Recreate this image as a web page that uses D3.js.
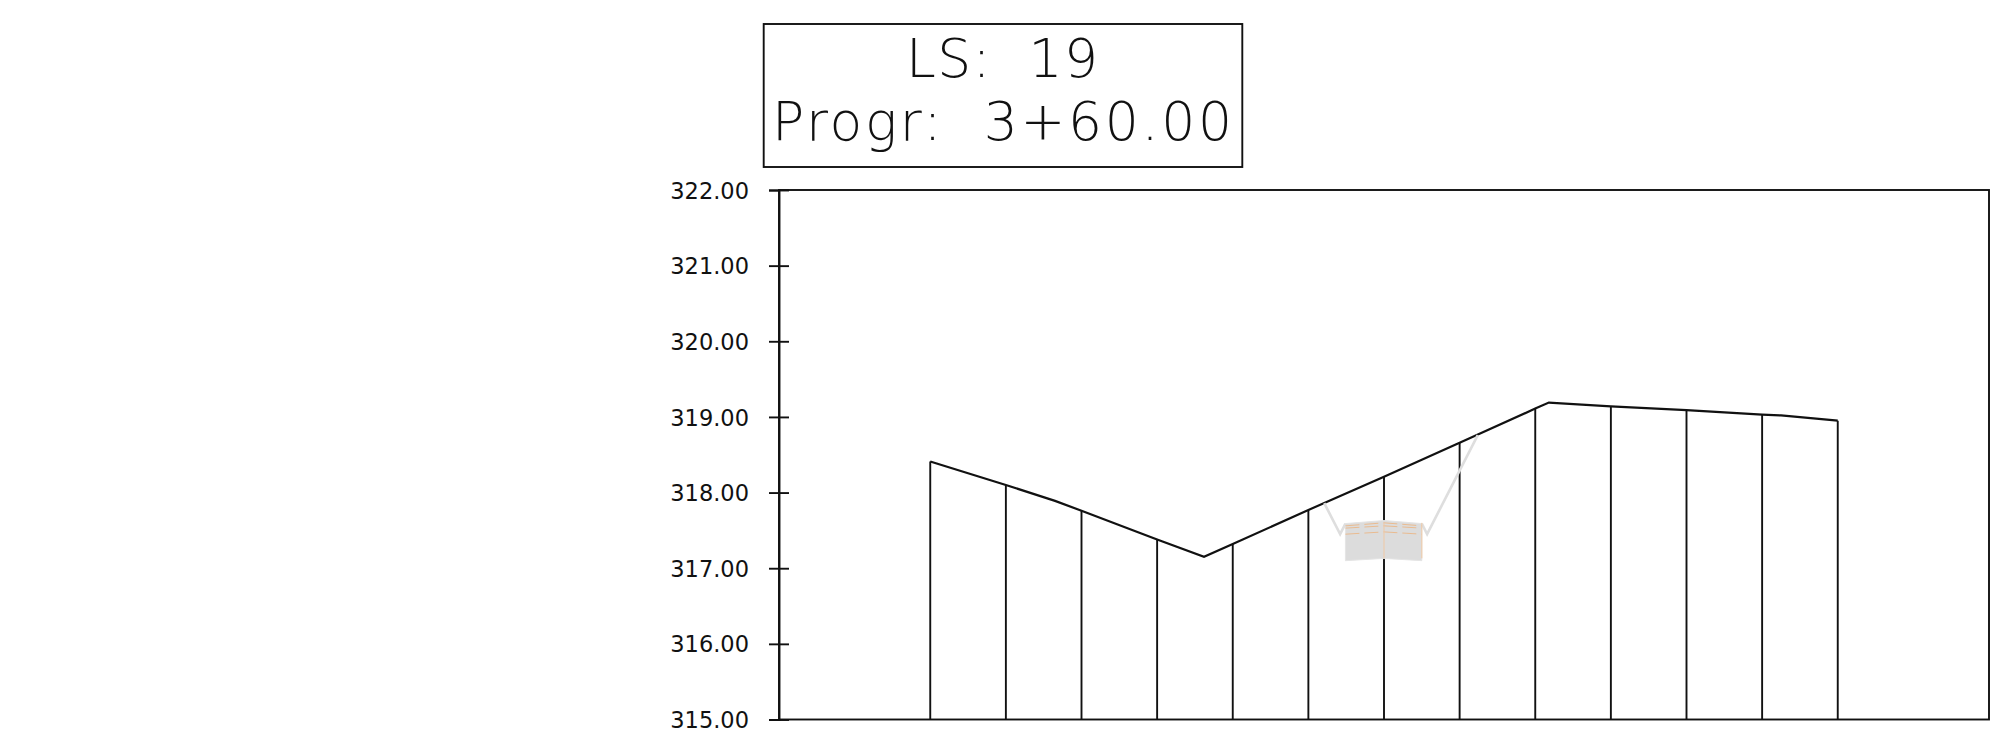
<!DOCTYPE html>
<html>
<head>
<meta charset="utf-8">
<script src="https://cdn.jsdelivr.net/npm/d3@7"></script>
<style>
body { margin: 0; background: #fff; }
text { fill: #111; }
.thin { font-family: "DejaVu Sans", sans-serif; font-weight: 200; }
.tickLabel { font-family: "DejaVu Sans", sans-serif; paint-order: stroke; stroke: #fff; stroke-width: 0.9px; }
</style>
</head>
<body>
<div id="chart"></div>
<script>
// Values
var titleLines = ["LS:  19", "Progr:  3+60.00"];
var yTicks = [315, 316, 317, 318, 319, 320, 321, 322];

// Ground profile (offset, elevation)
var groundX = [-6, -5, -4.35, -4, -3, -2.38, -2, -1, 0, 1, 2, 2.18, 3, 4, 5, 5.25, 6];
var groundZ = [318.41, 318.10, 317.89, 317.76, 317.38, 317.15, 317.32, 317.77, 318.21, 318.66, 319.11, 319.19, 319.14, 319.09, 319.03, 319.02, 318.95];
var stations = [-6, -5, -4, -3, -2, -1, 0, 1, 2, 3, 4, 5, 6];

// Road section
var sectionX = [-0.51, 0, 0.5, 0.5, 0, -0.51];
var sectionZ = [317.59, 317.63, 317.59, 317.10, 317.13, 317.10];
var ditchLeftX = [-0.79, -0.58, -0.51];
var ditchLeftZ = [317.86, 317.45, 317.59];
var ditchRightX = [0.5, 0.57, 1.24];
var ditchRightZ = [317.59, 317.45, 318.76];
var layerX = [-0.51, 0, 0.5];
var layerZ1 = [317.56, 317.60, 317.56];
var layerZ2 = [317.53, 317.56, 317.53];
var layerZ3 = [317.45, 317.48, 317.45];

var svgWidth = 2012;
var svgHeight = 734;

var margin = { top: 190, right: 23, bottom: 14.5, left: 779 };
var width = svgWidth - margin.left - margin.right;
var height = svgHeight - margin.top - margin.bottom;

var svg = d3.select("#chart")
    .append("svg")
    .attr("width", svgWidth)
    .attr("height", svgHeight)
    .style("display", "block");

// Title box
svg.append("rect")
    .attr("x", 763.7)
    .attr("y", 24)
    .attr("width", 478.6)
    .attr("height", 143)
    .attr("fill", "none")
    .attr("stroke", "#111")
    .attr("stroke-width", 1.9);

svg.append("text")
    .attr("class", "thin")
    .attr("x", 906)
    .attr("y", 77.3)
    .attr("font-size", 53.5)
    .attr("textLength", 192)
    .style("white-space", "pre")
    .text(titleLines[0]);

svg.append("text")
    .attr("class", "thin")
    .attr("x", 772)
    .attr("y", 140)
    .attr("font-size", 53.5)
    .attr("textLength", 460)
    .style("white-space", "pre")
    .text(titleLines[1]);

var chartGroup = svg.append("g")
    .attr("transform", `translate(${margin.left}, ${margin.top})`);

var xScale = d3.scaleLinear().domain([-8, 8]).range([0, width]);
var yScale = d3.scaleLinear().domain([315, 322]).range([height, 0]);

// Frame
chartGroup.append("rect")
    .attr("width", width)
    .attr("height", height)
    .attr("fill", "none")
    .attr("stroke", "#111")
    .attr("stroke-width", 1.9);

// Y axis
var leftAxis = d3.axisLeft(yScale)
    .tickValues(yTicks)
    .tickFormat(d3.format(".2f"))
    .tickSize(10)
    .tickPadding(20);

var yAxis = chartGroup.append("g").call(leftAxis);
yAxis.select(".domain").attr("stroke", "#111").attr("stroke-width", 1.9);
yAxis.selectAll(".tick line")
    .attr("x1", -10)
    .attr("x2", 10)
    .attr("stroke", "#111")
    .attr("stroke-width", 1.9);
yAxis.selectAll(".tick text")
    .attr("class", "tickLabel")
    .attr("font-size", 22.5)
    .attr("dy", "0.36em");

var line = d3.line()
    .x(d => xScale(d[0]))
    .y(d => yScale(d[1]));

// Stations
var stationZ = d3.scaleLinear().domain(groundX).range(groundZ);

chartGroup.selectAll(".station")
    .data(stations)
    .enter()
    .append("line")
    .attr("class", "station")
    .attr("x1", d => xScale(d))
    .attr("x2", d => xScale(d))
    .attr("y1", d => yScale(stationZ(d)))
    .attr("y2", height)
    .attr("stroke", "#111")
    .attr("stroke-width", 1.9);

// Ground line
chartGroup.append("path")
    .attr("d", line(d3.zip(groundX, groundZ)))
    .attr("fill", "none")
    .attr("stroke", "#111")
    .attr("stroke-width", 2.2);

// Road section over the station line
chartGroup.append("path")
    .attr("d", line(d3.zip(sectionX, sectionZ)) + "Z")
    .attr("fill", "#dcdcdc")
    .attr("stroke", "#e4e4e4")
    .attr("stroke-width", 1);

[[ditchLeftX, ditchLeftZ], [ditchRightX, ditchRightZ]].forEach(function(d) {
    chartGroup.append("path")
        .attr("d", line(d3.zip(d[0], d[1])))
        .attr("fill", "none")
        .attr("stroke", "#dedede")
        .attr("stroke-width", 2.6);
});

// Pavement layers
[layerZ1, layerZ2, layerZ3].forEach(function(z) {
    chartGroup.append("path")
        .attr("d", line(d3.zip(layerX, z)))
        .attr("fill", "none")
        .attr("stroke", "#ecb27c")
        .attr("stroke-width", 0.8)
        .attr("stroke-dasharray", "14 5");
});

// Thin centre and edge lines of the section
[0, 0.5].forEach(function(x) {
    chartGroup.append("line")
        .attr("x1", xScale(x))
        .attr("x2", xScale(x))
        .attr("y1", yScale(317.6))
        .attr("y2", yScale(317.13))
        .attr("stroke", "#efc8a4")
        .attr("stroke-width", 1);
});
</script>
</body>
</html>
